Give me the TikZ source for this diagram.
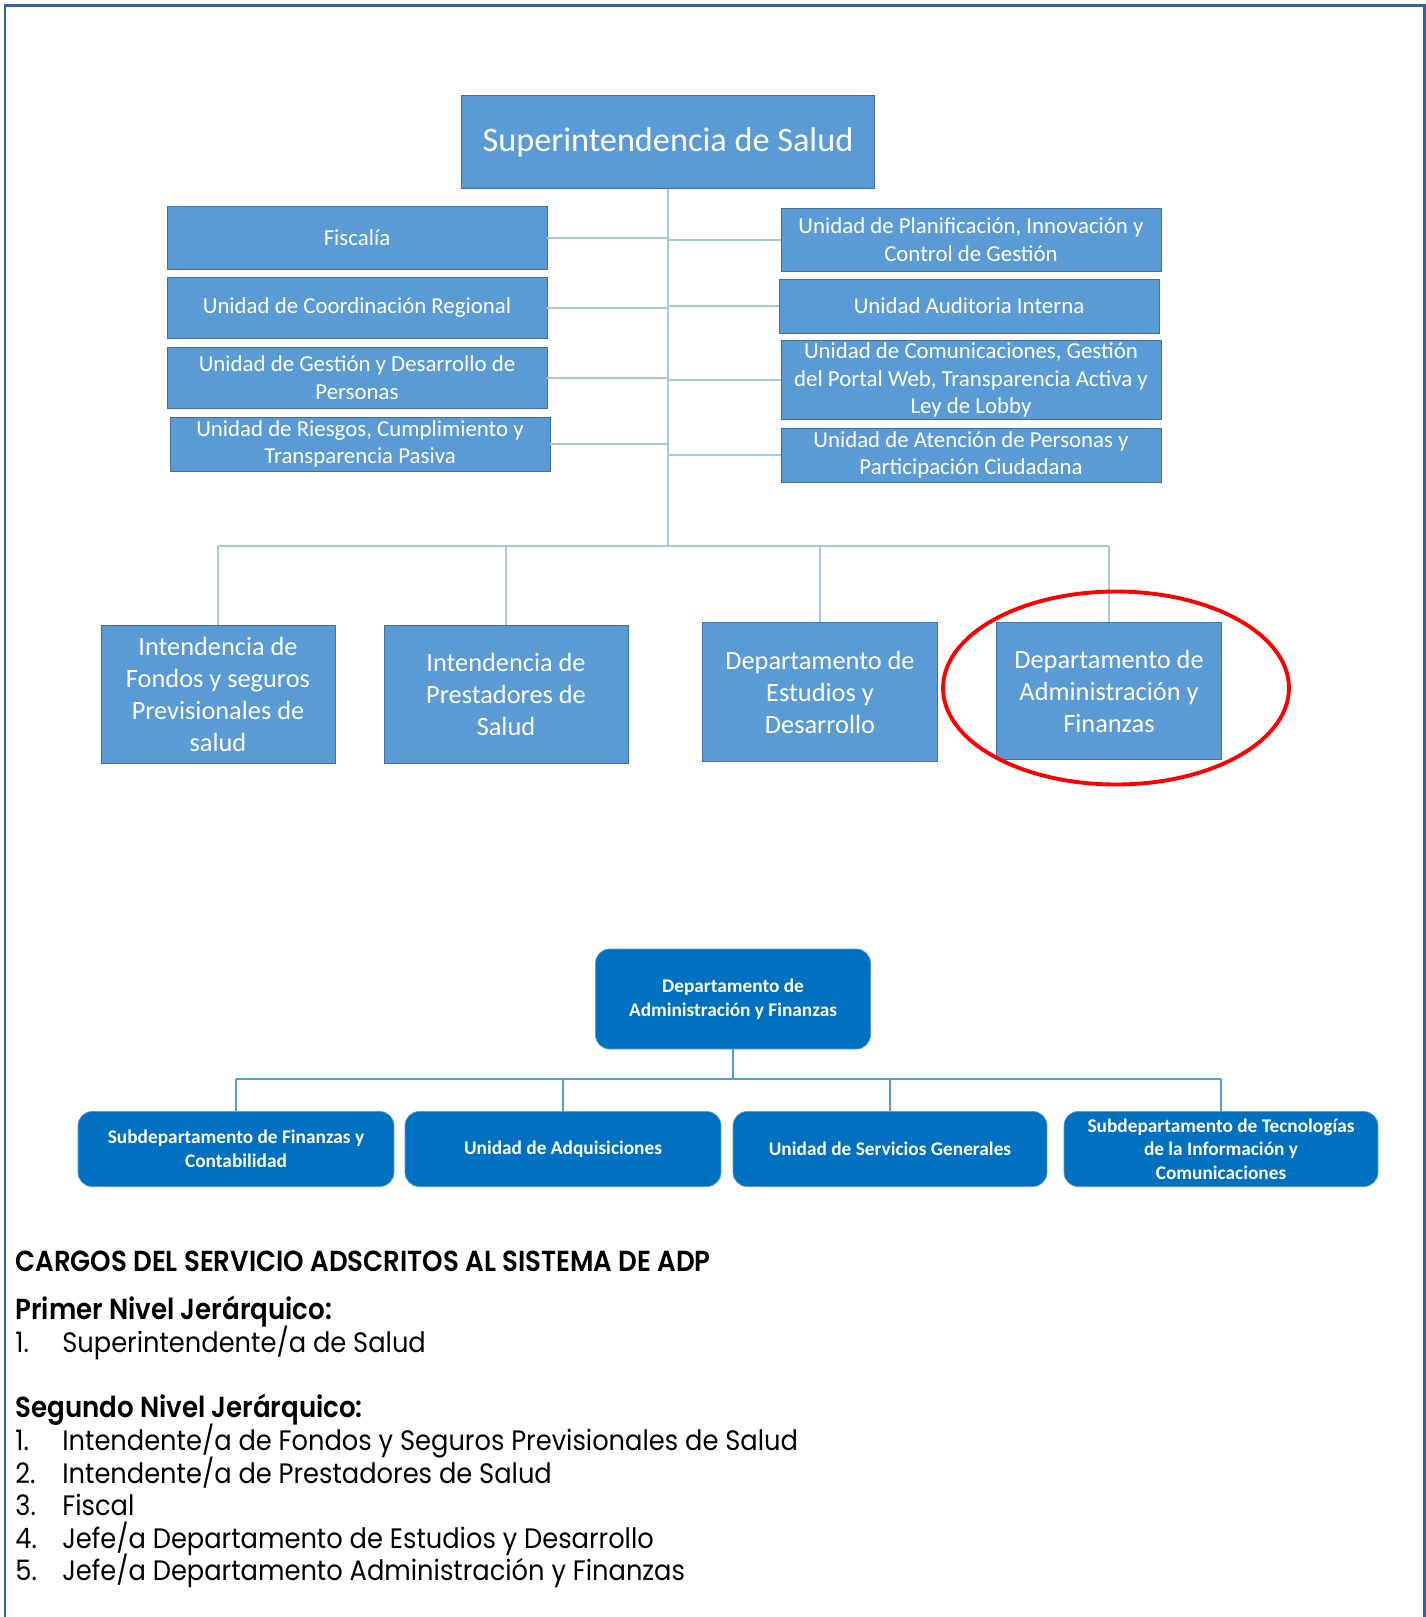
\documentclass[tikz,border=0pt]{standalone}
\usepackage{fontspec}
\setmainfont{Carlito}
\newfontfamily\gothic[FakeStretch=0.915]{Poppins}
\newfontfamily\gothicb[FakeStretch=0.90]{Poppins SemiBold}
\usetikzlibrary{positioning}
\definecolor{boxfill}{HTML}{5B9BD5}
\definecolor{boxline}{HTML}{41719C}
\definecolor{linkline}{HTML}{A9C6E8}
\definecolor{deepfill}{HTML}{0070C0}
\definecolor{deepline}{HTML}{5B9BD5}
\definecolor{frameline}{HTML}{3A5DA8}
\tikzset{
  unit/.style={draw=boxline, fill=boxfill, text=white, align=center, inner sep=1pt},
  sideunit/.style={unit, minimum width=7.6cm, font=\fontsize{13}{15.8}\selectfont},
  lowunit/.style={unit, font=\fontsize{15}{18.2}\selectfont},
  subunit/.style={draw=deepline, fill=deepfill, text=white, align=center, inner sep=1pt,
    rounded corners=8pt, minimum height=1.5cm, font=\fontsize{11}{13.4}\selectfont\bfseries},
  link/.style={draw=linkline, line width=1.1pt},
  sublink/.style={draw=deepline, line width=1.5pt},
  listline/.style={anchor=base west, inner sep=0pt, font=\gothic\fontsize{16}{19}\selectfont},
  listhead/.style={anchor=base west, inner sep=0pt, font=\gothicb\fontsize{16.5}{19}\selectfont},
}

\begin{document}
\begin{tikzpicture}[x=0.02cm, y=-0.02cm]
    \useasboundingbox (0,0) rectangle (1426,1617);

    % marco
    \draw[frameline, line width=0.06cm] (5,1617) -- (5,5) -- (1424,5) -- (1424,1617);

    % Superintendencia
    \node[unit, minimum width=8.26cm, minimum height=1.86cm, font=\fontsize{19.5}{22}\selectfont] (sup) at (668,142) {Superintendencia de Salud};

    % Unidades a la izquierda
    \node[sideunit, minimum height=1.26cm] (fis) at (357,238) {Fiscalía};
    \node[sideunit, minimum height=1.22cm] (coo) at (357,308) {Unidad de Coordinación Regional};
    \node[sideunit, minimum height=1.22cm] (ges) at (357,378) {Unidad de Gestión y Desarrollo de\\Personas};
    \node[sideunit, minimum height=1.08cm] (rie) at (360,444) {Unidad de Riesgos, Cumplimiento y\\Transparencia Pasiva};

    % Unidades a la derecha
    \node[sideunit, minimum height=1.26cm] (pla) at (971,240) {Unidad de Planificación, Innovación y\\Control de Gestión};
    \node[sideunit, minimum height=1.08cm] (aud) at (969,306) {Unidad Auditoria Interna};
    \node[sideunit, minimum height=1.54cm] (com) at (971,380) {Unidad de Comunicaciones, Gestión\\del Portal Web, Transparencia Activa y\\Ley de Lobby};
    \node[sideunit, minimum height=1.08cm] (ate) at (971,455) {Unidad de Atención de Personas y\\Participación Ciudadana};

    % Intendencias y departamentos
    \node[lowunit, minimum width=4.68cm, minimum height=2.76cm] (ifo) at (218,694) {Intendencia de\\Fondos y seguros\\Previsionales de\\salud};
    \node[lowunit, minimum width=4.88cm, minimum height=2.76cm] (ipr) at (506,694) {Intendencia de\\Prestadores de\\Salud};
    \node[lowunit, minimum width=4.70cm, minimum height=2.78cm] (des) at (820,692) {Departamento de\\Estudios y\\Desarrollo};
    \node[lowunit, minimum width=4.50cm, minimum height=2.74cm] (daf) at (1109,691) {Departamento de\\Administración y\\Finanzas};

    % Conectores
    \coordinate (trunk) at (668,546);
    \draw[link] (sup.south) -- (trunk);
    \foreach \u in {fis,coo,ges,rie}
        \draw[link] (\u.east) -- (\u.east -| trunk);
    \foreach \u in {pla,aud,com,ate}
        \draw[link] (\u.west) -- (\u.west -| trunk);
    \draw[link] (ifo.north |- trunk) -- (daf.north |- trunk);
    \foreach \u in {ifo,ipr,des,daf}
        \draw[link] (\u.north |- trunk) -- (\u.north);

    % Destacado
    \draw[red, line width=2.2pt] (1116,688) ellipse [x radius=3.46cm, y radius=1.93cm];

    % Departamento de Administración y Finanzas
    \node[subunit, minimum width=5.5cm, minimum height=2cm] (adm) at (733,999) {Departamento de\\Administración y Finanzas};
    \node[subunit, minimum width=6.32cm] (sfc) at (236,1149) {Subdepartamento de Finanzas y\\Contabilidad};
    \node[subunit, minimum width=6.32cm] (uad) at (563,1149) {Unidad de Adquisiciones};
    \node[subunit, minimum width=6.28cm] (usg) at (890,1149) {Unidad de Servicios Generales};
    \node[subunit, minimum width=6.28cm] (sti) at (1221,1149) {Subdepartamento de Tecnologías\\de la Información y\\Comunicaciones};

    \coordinate (bus) at (733,1079);
    \draw[sublink] (adm.south) -- (bus);
    \draw[sublink] (sfc.north |- bus) -- (sti.north |- bus);
    \foreach \u in {sfc,uad,usg,sti}
        \draw[sublink] (\u.north |- bus) -- (\u.north);

    % Cargos
    \node[listhead] (cargos) at (15,1271) {CARGOS DEL SERVICIO ADSCRITOS AL SISTEMA DE ADP};
    \node[listhead] (primer) at (15,1319) {Primer Nivel Jerárquico:};
    \node[listline] (pn1) at (15,1352) {1.};
    \node[listline] (p1) at (62,1352) {Superintendente/a de Salud};
    \node[listhead] (segundo) at (15,1417) {Segundo Nivel Jerárquico:};
    \node[listline] (sn1) at (15,1450) {1.};
    \node[listline] (s1) at (62,1450) {Intendente/a de Fondos y Seguros Previsionales de Salud};
    \node[listline] (sn2) at (15,1483) {2.};
    \node[listline] (s2) at (62,1483) {Intendente/a de Prestadores de Salud};
    \node[listline] (sn3) at (15,1515) {3.};
    \node[listline] (s3) at (62,1515) {Fiscal};
    \node[listline] (sn4) at (15,1548) {4.};
    \node[listline] (s4) at (62,1548) {Jefe/a Departamento de Estudios y Desarrollo};
    \node[listline] (sn5) at (15,1580) {5.};
    \node[listline] (s5) at (62,1580) {Jefe/a Departamento Administración y Finanzas};
\end{tikzpicture}
\end{document}
